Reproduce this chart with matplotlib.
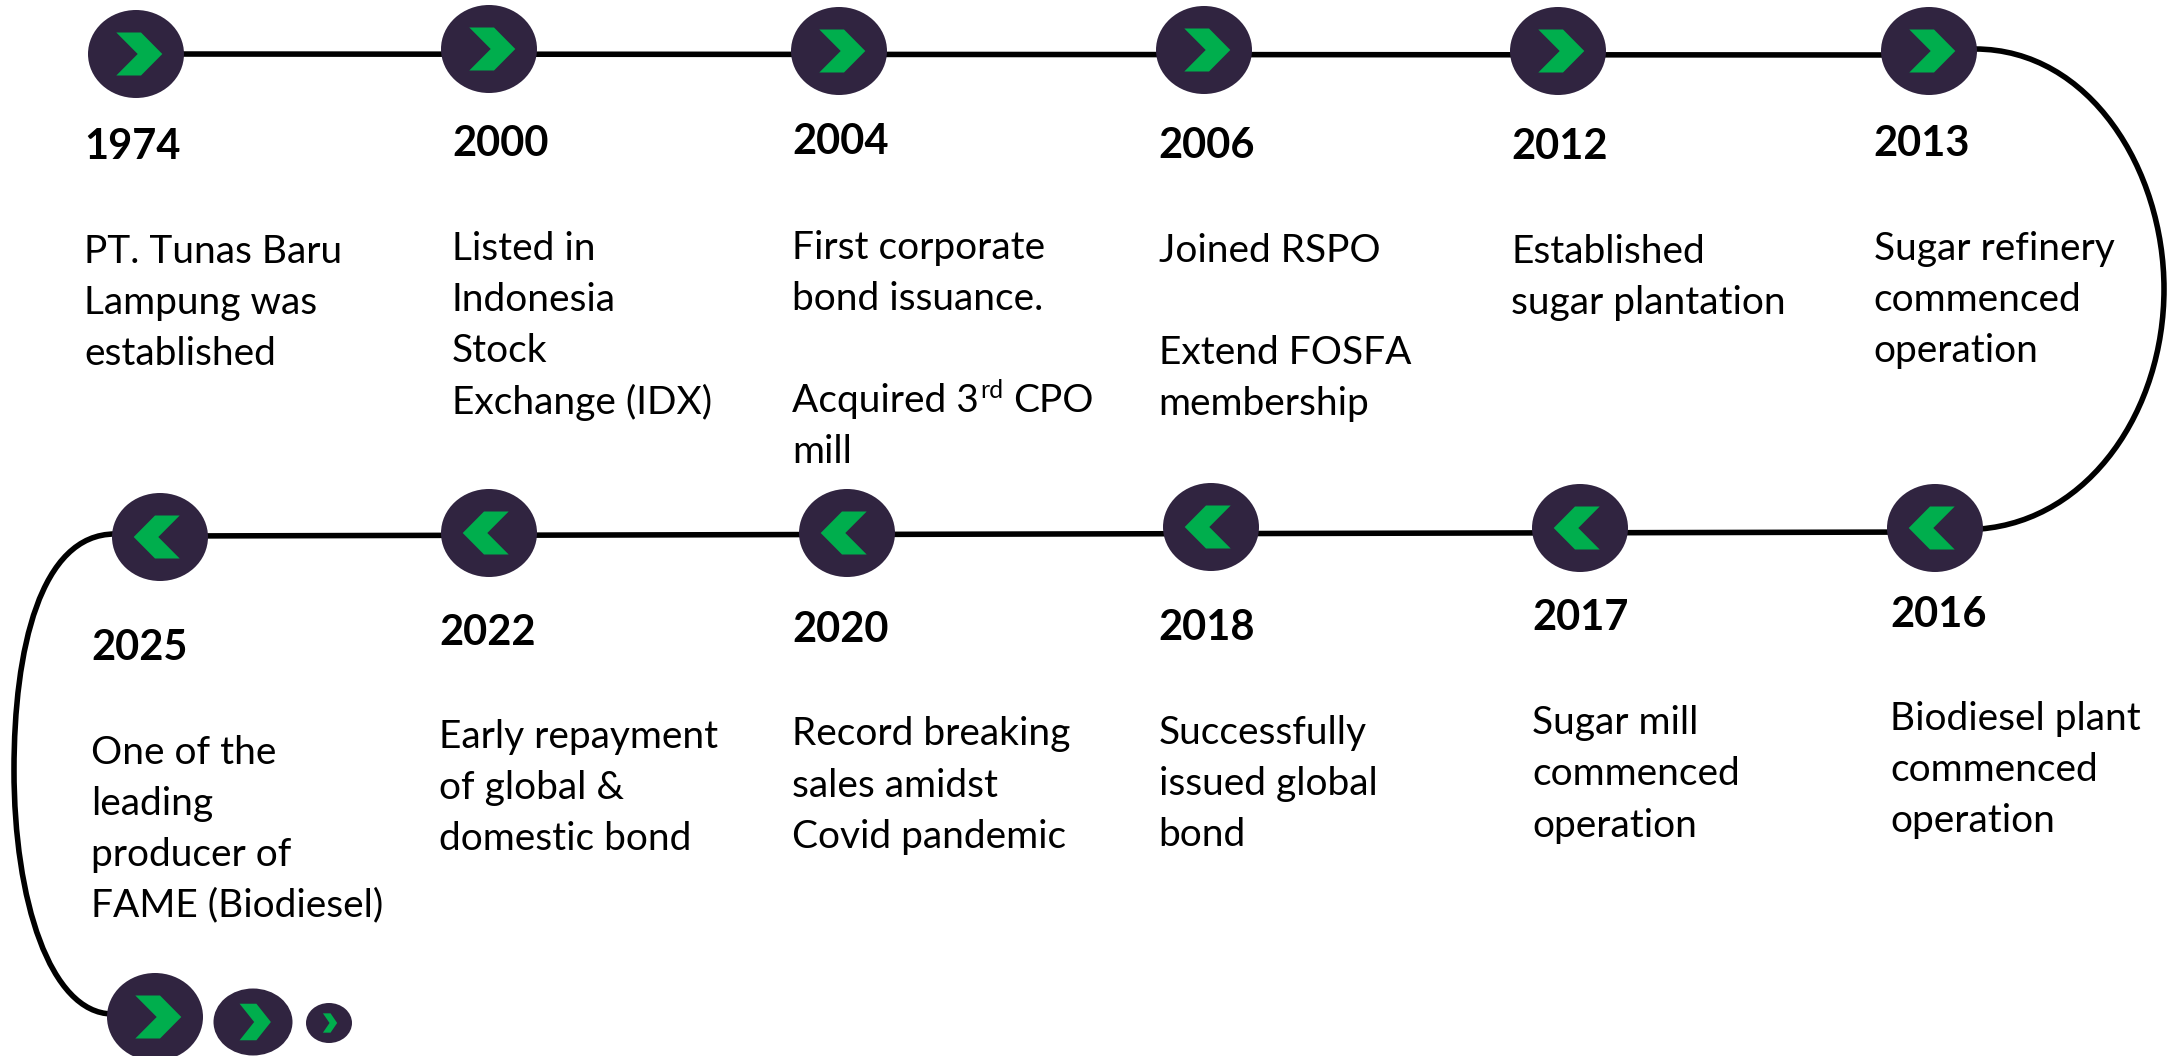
import matplotlib
matplotlib.use("Agg")
import matplotlib.pyplot as plt
from matplotlib.patches import Ellipse, Polygon, PathPatch
from matplotlib.path import Path

W, H = 2177, 1056
S = 2177 / 1568
FONT = "Lato"
DARK = "#302440"
GREEN = "#00AE4D"

years = ["1974", "2000", "2004", "2006", "2012", "2013",
         "2016", "2017", "2018", "2020", "2022", "2025"]
bodies = [
    ["PT. Tunas Baru", "Lampung was", "established"],
    ["Listed in", "Indonesia", "Stock", "Exchange (IDX)"],
    ["First corporate", "bond issuance.", "", "Acquired 3", "mill"],
    ["Joined RSPO", "", "Extend FOSFA", "membership"],
    ["Established", "sugar plantation"],
    ["Sugar refinery", "commenced", "operation"],
    ["Biodiesel plant", "commenced", "operation"],
    ["Sugar mill", "commenced", "operation"],
    ["Successfully", "issued global", "bond"],
    ["Record breaking", "sales amidst", "Covid pandemic"],
    ["Early repayment", "of global &", "domestic bond"],
    ["One of the", "leading", "producer of", "FAME (Biodiesel)"],
]

# layout (pixels of the 2177x1056 canvas)
node_xy = [(136, 54), (489, 49), (839, 51), (1204, 50), (1558, 51), (1929, 51),
           (1935, 528), (1580, 528), (1211, 527), (847, 533), (489, 533), (160, 537)]
text_x = [60.5, 325.5, 570.5, 834.5, 1088.5, 1349.5, 1361.5, 1103.5, 834.5, 570.5, 316.5, 65.5]
year_y = [106, 104, 102, 105, 106, 103.5, 443, 445, 452, 454, 456, 467]
first_y = [181.5, 179.5, 178.5, 180.5, 181.5, 179.5, 518, 521, 528, 529, 531, 542]
tail_nodes = [(155, 1017, 48, 44, 1.0, 1.0), (253, 1022, 39.5, 33.5, 0.68, 0.85), (329, 1023, 23, 20, 0.31, 0.45)]

fig = plt.figure(figsize=(W / 100, H / 100), dpi=100, facecolor="white")
ax = fig.add_axes([0, 0, 1, 1])
ax.set_xlim(0, W)
ax.set_ylim(H, 0)
ax.axis("off")

LW = 4.0
top_x = [p[0] for p in node_xy[:6]]
ax.plot([top_x[0], top_x[-1]], [54, 55], color="black", lw=LW, zorder=1, solid_capstyle="butt")
ax.plot([node_xy[6][0], node_xy[11][0]], [532, 536], color="black", lw=LW, zorder=1, solid_capstyle="butt")

right_arc = Path([(1975, 49), (2090, 49), (2164, 170), (2164, 289),
                  (2164, 410), (2090, 520), (1980, 529)],
                 [Path.MOVETO, Path.CURVE4, Path.CURVE4, Path.CURVE4, Path.CURVE4, Path.CURVE4, Path.CURVE4])
left_arc = Path([(115, 534), (40, 534), (14, 650), (14, 770),
                 (14, 900), (50, 1013), (112, 1014)],
                [Path.MOVETO, Path.CURVE4, Path.CURVE4, Path.CURVE4, Path.CURVE4, Path.CURVE4, Path.CURVE4])
for p in (right_arc, left_arc):
    ax.add_patch(PathPatch(p, fc="none", ec="black", lw=LW, zorder=1))

CHEV = [(-19.7, -21.5), (5, -21.5), (26.3, 0), (5, 21.5), (-19.7, 21.5), (1.7, 0)]


def node(x, y, rx, ry, d=1, sx=1.0, sy=1.0):
    ax.add_patch(Ellipse((x, y), 2 * rx, 2 * ry, fc=DARK, ec="none", zorder=2))
    ax.add_patch(Polygon([(x + d * sx * a, y + sy * b) for a, b in CHEV],
                         closed=True, fc=GREEN, ec="none", zorder=3))


for i, (x, y) in enumerate(node_xy):
    node(x, y, 48, 44, 1 if i < 6 else -1)
for x, y, rx, ry, sx, sy in tail_nodes:
    node(x, y, rx, ry, 1, sx, sy)

YEAR_FS = 30
BODY_FS = 28
LINE = 36.8 * S
for i in range(len(years)):
    x = text_x[i] * S
    ax.text(x, year_y[i] * S, years[i], family=FONT, fontsize=YEAR_FS, fontweight="bold",
            color="black", va="center", ha="left")
    y0 = first_y[i] * S
    for j, line in enumerate(bodies[i]):
        if not line:
            continue
        t = ax.text(x, y0 + j * LINE, line, family=FONT, fontsize=BODY_FS, color="black",
                    va="center", ha="left")
        if line == "Acquired 3":
            ax.annotate("rd", xy=(1, 1), xycoords=t, xytext=(1, 3), textcoords="offset points",
                        family=FONT, fontsize=18, color="black", va="top", ha="left")
            ax.annotate("CPO", xy=(1, 0.5), xycoords=t, xytext=(25, 0), textcoords="offset points",
                        family=FONT, fontsize=BODY_FS, color="black", va="center", ha="left")

fig.savefig("out.png", dpi=100, facecolor="white")
